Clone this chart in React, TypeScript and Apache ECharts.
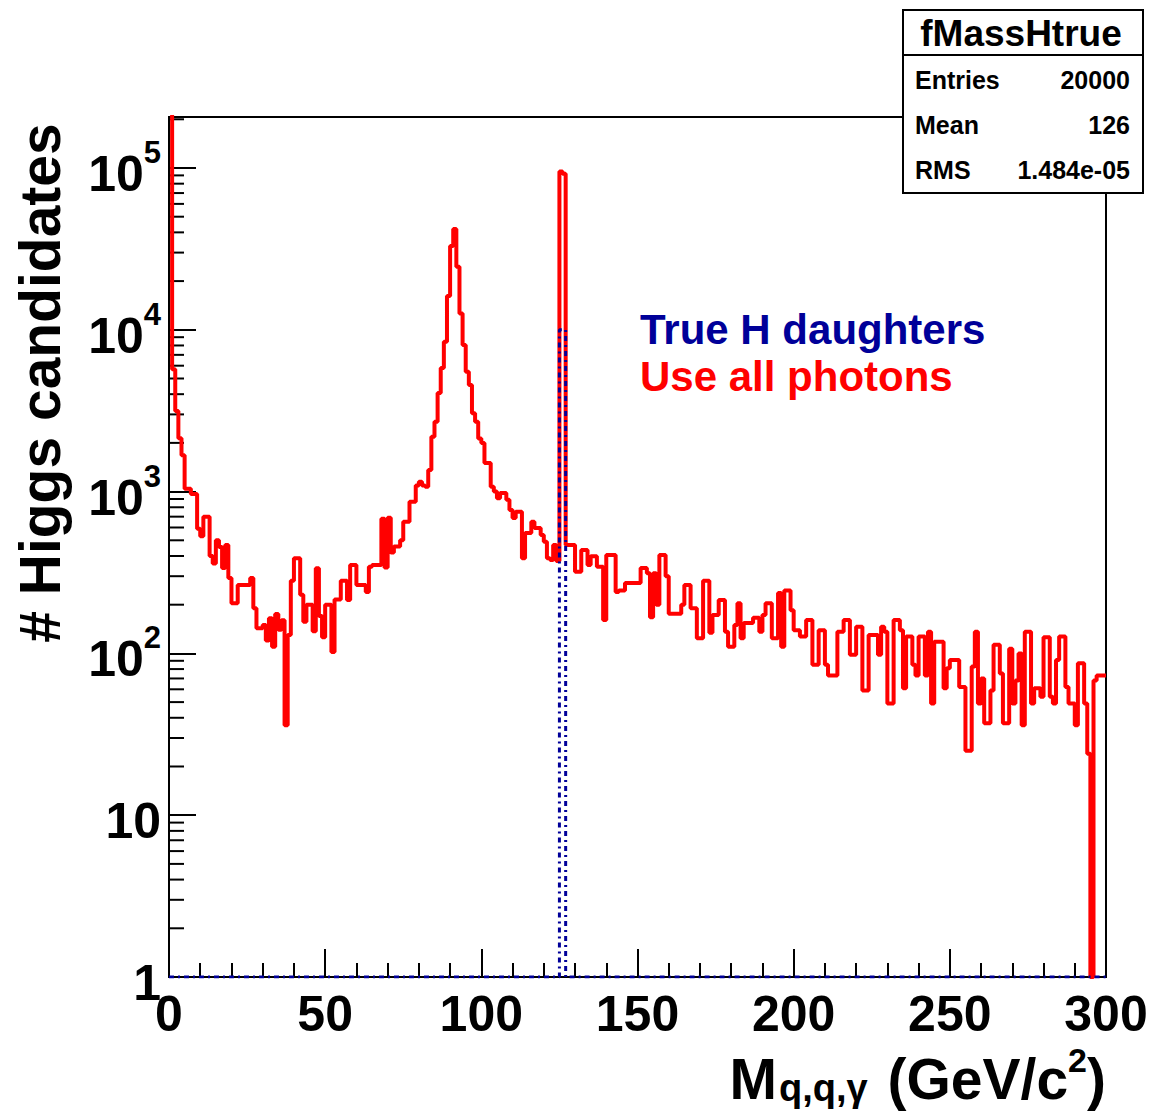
import React, { useEffect, useRef } from "react";
import * as echarts from "echarts";

// ---- histogram definition ----
const X_MIN = 0;
const X_MAX = 300;
const BIN_WIDTH = 1; // GeV per bin
const Y_MIN = 1;
const Y_MAX = 206600;

// "Use all photons" (red) : counts per 1 GeV bin, 0..300
const allPhotonCounts = [
  300000, 5700, 3150, 2140, 1680, 1040, 1040, 967, 967, 590,
  530, 700, 700, 400, 360, 500, 454, 337, 468, 292,
  204, 204, 265, 265, 265, 265, 292, 190, 143, 143,
  150, 120, 165, 110, 175, 140, 160, 36, 130, 281,
  387, 387, 230, 157, 200, 200, 137, 336, 170, 126,
  200, 200, 102, 215, 215, 281, 281, 214, 352, 352,
  265, 265, 265, 240, 343, 352, 352, 352, 680, 340,
  690, 420, 457, 457, 500, 652, 652, 866, 866, 1090,
  1150, 1090, 1070, 1360, 2180, 2700, 4070, 5800, 8440, 16200,
  33000, 42000, 24500, 12600, 8050, 5510, 4560, 3050, 2700, 2130,
  2000, 1500, 1500, 1070, 1000, 910, 980, 980, 890, 770,
  687, 751, 751, 387, 555, 555, 652, 596, 596, 540,
  490, 387, 378, 468, 372, 95000, 92000, 468, 468, 468,
  320, 320, 436, 436, 352, 398, 398, 343, 343, 161,
  405, 405, 405, 240, 245, 245, 272, 272, 272, 272,
  272, 337, 337, 313, 167, 313, 200, 405, 405, 300,
  176, 176, 176, 176, 200, 265, 265, 190, 190, 124,
  124, 281, 281, 134, 173, 173, 214, 214, 136, 110,
  110, 150, 204, 124, 154, 154, 154, 166, 166, 136,
  173, 204, 204, 124, 124, 236, 110, 245, 245, 185,
  139, 139, 127, 127, 161, 161, 85, 85, 139, 139,
  85, 73, 73, 73, 136, 136, 161, 161, 98, 98,
  146, 146, 59, 59, 130, 130, 130, 98, 146, 136,
  49, 49, 161, 161, 139, 61, 127, 127, 85, 73,
  127, 127, 73, 136, 49, 118, 118, 118, 61, 81,
  91, 91, 91, 62, 62, 25, 25, 83, 136, 49,
  70, 37, 37, 59, 113, 113, 75, 37, 37, 107,
  49, 68, 100, 36, 136, 136, 49, 61, 61, 54,
  126, 126, 54, 49, 91, 127, 127, 62, 49, 49,
  36, 87, 87, 49, 24, 0, 68, 73, 73, 73,
];

// "True H daughters" (blue dashed): only two filled bins
const trueBinIndex = [125, 126];
const trueBinCount = [10000, 10000];

// ---- axis / text content ----
const xTickValues = [0, 50, 100, 150, 200, 250, 300];
const yTickExponents = [0, 1, 2, 3, 4, 5];
const yTitle = "# Higgs candidates";
const legendLines = [
  { text: "True H daughters", color: "#000099" },
  { text: "Use all photons", color: "#ff0000" },
];
const statsTitle = "fMassHtrue";
const statsNames = ["Entries", "Mean", "RMS"];
const statsValues = ["20000", "126", "1.484e-05"];

const FONT = "'Liberation Sans', Arial, Helvetica, sans-serif";

function toStepData(counts: number[]) {
  const pts: number[][] = counts.map((c, i) => [X_MIN + i * BIN_WIDTH, Math.max(c, Y_MIN)]);
  pts.push([X_MAX, Math.max(counts[counts.length - 1], Y_MIN)]);
  return pts;
}

export default function App() {
  const ref = useRef<HTMLDivElement>(null);

  useEffect(() => {
    document.body.style.margin = "0";
    if (!ref.current) return;
    const chart = echarts.init(ref.current, undefined, { renderer: "svg" });

    const trueCounts = allPhotonCounts.map(() => 0);
    trueBinIndex.forEach((b, k) => {
      trueCounts[b] = trueBinCount[k];
    });

    const minorY: number[][] = [];
    yTickExponents.forEach((e) => {
      for (let m = 2; m <= 9; m++) {
        const v = m * Math.pow(10, e);
        if (v < Y_MAX * 0.97) minorY.push([X_MIN, v]);
      }
    });

    const option: any = {
      animation: false,
      backgroundColor: "#ffffff",
      grid: {
        left: 169,
        top: 117,
        right: 50,
        bottom: 139,
        show: true,
        borderColor: "#000",
        borderWidth: 2,
        backgroundColor: "transparent",
      },
      xAxis: {
        type: "value",
        min: X_MIN,
        max: X_MAX,
        interval: 50,
        axisLine: { show: true, lineStyle: { color: "#000", width: 2 } },
        axisTick: { show: true, inside: true, length: 28, lineStyle: { color: "#000", width: 2 } },
        minorTick: { show: true, splitNumber: 5, length: 14, lineStyle: { color: "#000", width: 2 } },
        splitLine: { show: false },
        axisLabel: {
          show: true,
          margin: 12,
          color: "#000",
          fontSize: 50,
          fontWeight: "bold",
          fontFamily: FONT,
          formatter: (v: number) => (xTickValues.indexOf(v) >= 0 ? String(v) : ""),
        },
      },
      yAxis: {
        type: "log",
        logBase: 10,
        min: Y_MIN,
        max: Y_MAX,
        splitNumber: 5,
        axisLine: { show: true, lineStyle: { color: "#000", width: 2 } },
        axisTick: { show: true, inside: true, length: 27, lineStyle: { color: "#000", width: 2 } },
        splitLine: { show: false },
        axisLabel: {
          show: true,
          margin: 8,
          color: "#000",
          fontFamily: FONT,
          fontWeight: "bold",
          formatter: (v: number) => {
            const lg = Math.log10(v);
            const e = Math.round(lg);
            if (Math.abs(lg - e) > 1e-6 || yTickExponents.indexOf(e) < 0) return "";
            if (e === 0) return "{b|1}";
            if (e === 1) return "{b|10}";
            return "{b|10}{s|" + e + "}";
          },
          rich: {
            b: { fontSize: 50, fontWeight: "bold", fontFamily: FONT, color: "#000", lineHeight: 62, verticalAlign: "bottom" },
            s: { fontSize: 31, fontWeight: "bold", fontFamily: FONT, color: "#000", lineHeight: 31, verticalAlign: "top" },
          },
        },
      },
      series: [
        {
          name: "Use all photons",
          type: "line",
          step: "end",
          symbol: "none",
          clip: true,
          data: toStepData(allPhotonCounts),
          lineStyle: { color: "#ff0000", width: 4 },
          z: 3,
        },
        {
          name: "True H daughters",
          type: "line",
          step: "end",
          symbol: "none",
          clip: true,
          data: toStepData(trueCounts),
          lineStyle: { color: "#000099", width: 3, type: [5, 4, 2, 4] },
          z: 4,
        },
        {
          type: "custom",
          silent: true,
          data: minorY,
          renderItem: (_p: any, api: any) => {
            const pt = api.coord([api.value(0), api.value(1)]);
            return {
              type: "line",
              shape: { x1: pt[0], y1: pt[1], x2: pt[0] + 15, y2: pt[1] },
              style: { stroke: "#000", lineWidth: 2 },
            };
          },
          z: 2,
        },
      ],
      graphic: [
        {
          type: "text",
          x: 40,
          y: 383,
          rotation: Math.PI / 2,
          style: {
            text: yTitle,
            fontSize: 57,
            fontWeight: "bold",
            fontFamily: FONT,
            fill: "#000",
            textAlign: "center",
            textVerticalAlign: "middle",
          },
        },
        {
          type: "text",
          x: 1106,
          y: 1075,
          style: {
            text: "{m|M}{sub|q,q,γ}{m| (GeV/c}{sup|2}{m|)}",
            textAlign: "right",
            textVerticalAlign: "middle",
            fill: "#000",
            rich: {
              m: { fontSize: 57, fontWeight: "bold", fontFamily: FONT, fill: "#000", lineHeight: 64, verticalAlign: "bottom" },
              sub: { fontSize: 38, fontWeight: "bold", fontFamily: FONT, fill: "#000", lineHeight: 40, verticalAlign: "bottom", padding: [0, 4, 0, 2] },
              sup: { fontSize: 34, fontWeight: "bold", fontFamily: FONT, fill: "#000", lineHeight: 36, verticalAlign: "top" },
            },
          },
        },
        ...legendLines.map((l, i) => ({
          type: "text",
          x: 640,
          y: 329 + i * 47,
          style: {
            text: l.text,
            fontSize: 42,
            fontWeight: "bold",
            fontFamily: FONT,
            fill: l.color,
            textAlign: "left",
            textVerticalAlign: "middle",
          },
        })),
        {
          type: "rect",
          z: 100,
          shape: { x: 903, y: 10, width: 240, height: 183 },
          style: { fill: "#fff", stroke: "#000", lineWidth: 2 },
        },
        {
          type: "line",
          z: 101,
          shape: { x1: 903, y1: 55, x2: 1143, y2: 55 },
          style: { stroke: "#000", lineWidth: 2 },
        },
        {
          type: "text",
          z: 101,
          x: 1021,
          y: 33,
          style: {
            text: statsTitle,
            fontSize: 37,
            fontWeight: "bold",
            fontFamily: FONT,
            fill: "#000",
            textAlign: "center",
            textVerticalAlign: "middle",
          },
        },
        ...statsNames.map((n, i) => ({
          type: "text",
          z: 101,
          x: 915,
          y: 80 + i * 45,
          style: {
            text: n,
            fontSize: 25,
            fontWeight: "bold",
            fontFamily: FONT,
            fill: "#000",
            textAlign: "left",
            textVerticalAlign: "middle",
          },
        })),
        ...statsValues.map((v, i) => ({
          type: "text",
          z: 101,
          x: 1130,
          y: 80 + i * 45,
          style: {
            text: v,
            fontSize: 25,
            fontWeight: "bold",
            fontFamily: FONT,
            fill: "#000",
            textAlign: "right",
            textVerticalAlign: "middle",
          },
        })),
      ],
    };

    chart.setOption(option);
    return () => chart.dispose();
  }, []);

  return <div ref={ref} style={{ width: 1156, height: 1116 }} />;
}
